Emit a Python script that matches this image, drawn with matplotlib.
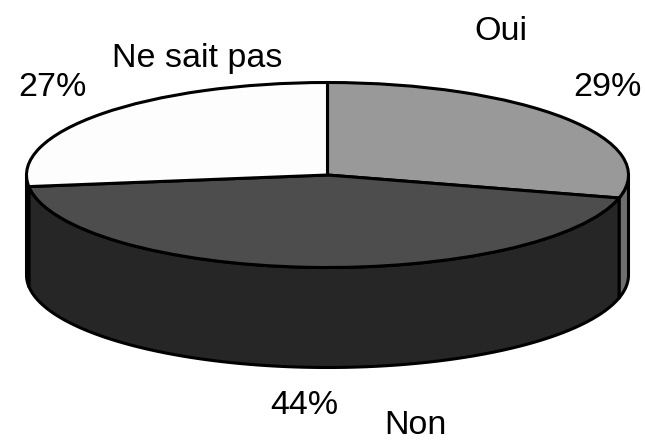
import numpy as np
import matplotlib
matplotlib.use("Agg")
import matplotlib.pyplot as plt

plt.rcParams['font.family'] = ['Liberation Sans', 'DejaVu Sans']

categories = ["Oui", "Non", "Ne sait pas"]
values = [29, 44, 27]
percent_labels = ["29%", "44%", "27%"]
top_colors = ["#999999", "#4d4d4d", "#fdfdfd"]
side_colors = ["#6e6e6e", "#262626", "#222222"]

W, H = 645, 442
CX, CY = 327.5, 175      # pixel centre of the top ellipse
RX, RY = 301, 92.5       # pixel radii of the top ellipse
DEPTH = 100 / RY         # extrusion depth in pie units
LW = 2.2

fig = plt.figure(figsize=(W / 100, H / 100), dpi=100, facecolor="white")
ax = fig.add_axes([0, 0, 1, 1])

# side walls: the front (lower) part of each slice, extruded downward
edges = 90 - np.cumsum([0] + values) * 3.6
for i, color in enumerate(side_colors):
    a1, a0 = edges[i], edges[i + 1]          # clockwise a1 -> a0
    for lo, hi in [(a0, a1), (a0 + 360, a1 + 360), (a0 - 360, a1 - 360)]:
        s, e = max(lo, -180), min(hi, 0)
        if s < e:
            t = np.radians(np.linspace(s, e, 80))
            xs = np.cos(t)
            ys = np.sin(t)
            ax.fill(np.r_[xs, xs[::-1]], np.r_[ys, ys[::-1] - DEPTH],
                    facecolor=color, edgecolor="black", lw=LW, joinstyle="round", zorder=1)

# top face
wedges, _ = ax.pie(values, colors=top_colors, startangle=90, counterclock=False,
                   radius=1, center=(0, 0),
                   wedgeprops=dict(edgecolor="black", linewidth=LW, zorder=2))
for w in wedges:
    w.set_zorder(2)

ax.set_aspect("auto")
ax.set_xlim(-CX / RX, (W - CX) / RX)
ax.set_ylim(-(H - CY) / RY, CY / RY)
ax.axis("off")

FS = 24.5
def label(px, py, s):
    fig.text(px / W, 1 - py / H, s, ha="center", va="center", fontsize=FS, color="black")

label(501, 31, categories[0])
label(607, 87, percent_labels[0])
label(415, 426, categories[1])
label(304, 405, percent_labels[1])
label(197, 59, categories[2])
label(52, 87, percent_labels[2])

fig.savefig("out.png", dpi=100, facecolor="white")
